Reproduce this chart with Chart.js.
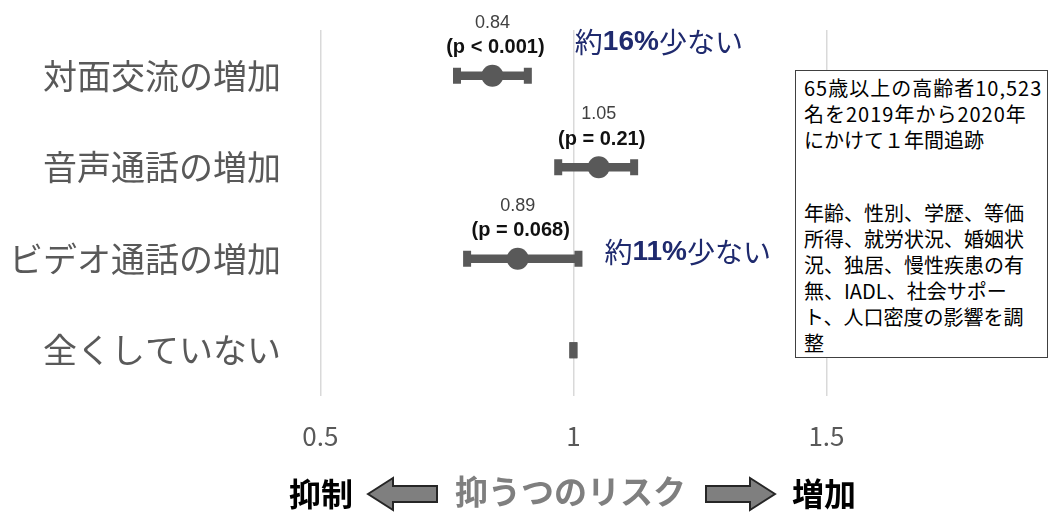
<!DOCTYPE html>
<html>
<head>
<meta charset="utf-8">
<script src="https://cdn.jsdelivr.net/npm/chart.js@4/dist/chart.umd.min.js"></script>
<style>
  html, body { margin: 0; padding: 0; background: #fff; }
  #wrap { position: relative; width: 1050px; height: 514px; overflow: hidden; }
  #chart { position: absolute; left: 0; top: 0; }
  /* adjustment note box */
  #note {
    position: absolute; left: 795px; top: 70px; width: 253px; height: 288px;
    box-sizing: border-box; border: 1.5px solid #404040; background: #fff;
    padding: 4px 0 0 8px; font-family: 'Noto Sans CJK JP', sans-serif;
    font-size: 20px; line-height: 26px; color: #000; white-space: nowrap;
  }
  #note .wide { letter-spacing: 1px; }
  #note .gap { height: 47px; }
  /* bottom caption */
  .cap { position: absolute; top: 472px; font-family: 'Noto Sans CJK JP', sans-serif;
         font-size: 32px; line-height: 40px; white-space: nowrap; }
  .cap.end { font-weight: bold; color: #000; }
  .cap.mid { color: #7f7f7f; font-size: 33px; top: 470px; font-weight: bold; }
  .arrow { position: absolute; top: 476px; }
</style>
</head>
<body>
<div id="wrap">
  <canvas id="chart" width="1050" height="514"></canvas>
  <div id="note">
    <span class="wide">65歳以上の高齢者10,523</span><br><span class="wide">名を2019年から2020年</span><br>にかけて１年間追跡
    <div class="gap"></div>
    年齢、性別、学歴、等価<br>所得、就労状況、婚姻状<br>況、独居、慢性疾患の有<br>無、IADL、社会サポー<br>ト、人口密度の影響を調<br>整
  </div>
  <span class="cap end" style="left:289px">抑制</span>
  <svg class="arrow" style="left:366px" width="74" height="36" viewBox="0 0 74 36">
    <polygon points="2,18 27,2 27,10 71,10 71,26 27,26 27,34" fill="#7f7f7f" stroke="#262626" stroke-width="2" stroke-linejoin="miter"/>
  </svg>
  <span class="cap mid" style="left:455px">抑うつのリスク</span>
  <svg class="arrow" style="left:703px" width="74" height="36" viewBox="0 0 74 36">
    <polygon points="72,18 47,2 47,10 3,10 3,26 47,26 47,34" fill="#7f7f7f" stroke="#262626" stroke-width="2" stroke-linejoin="miter"/>
  </svg>
  <span class="cap end" style="left:792px">増加</span>
</div>
<script>
/* ============================================
   DATA
   ============================================ */
const categories = ['対面交流の増加', '音声通話の増加', 'ビデオ通話の増加', '全くしていない'];
const oddsRatio = [0.84, 1.05, 0.89, null];
const ciLower = [0.77, 0.97, 0.79, 1];
const ciUpper = [0.91, 1.12, 1.01, 1];
const valueLabels = ['0.84', '1.05', '0.89', ''];
const pLabels = ['(p < 0.001)', '(p = 0.21)', '(p = 0.068)', ''];
const reductionPct = ['16%', '', '11%', ''];
const xTicks = [0.5, 1, 1.5];

const markColor = '#595959';

/* ============================================
   ANNOTATIONS (value / p-value / reduction notes)
   ============================================ */
const annotatePlugin = {
    id: 'annotate',
    afterDatasetsDraw(chart) {
        const { ctx, scales: { x, y } } = chart;
        ctx.save();
        ctx.textAlign = 'center';
        ctx.textBaseline = 'middle';
        categories.forEach((c, i) => {
            if (oddsRatio[i] === null) return;
            const px = x.getPixelForValue(oddsRatio[i]);
            const py = y.getPixelForValue(i);
            ctx.fillStyle = '#404040';
            ctx.font = '18px "Liberation Sans", Arial, sans-serif';
            ctx.fillText(valueLabels[i], px, py - 53);
            ctx.fillStyle = '#111';
            ctx.font = 'bold 20px "Liberation Sans", Arial, sans-serif';
            ctx.fillText(pLabels[i], px + 3, py - 28);
        });

        // "約xx%少ない" notes, placed right of the upper CI
        const noteShift = [{ dx: 47, dy: -33 }, null, { dx: 26, dy: -6 }, null];
        ctx.textAlign = 'left';
        ctx.fillStyle = '#1f2a6e';
        reductionPct.forEach((pct, i) => {
            if (!pct) return;
            let px = x.getPixelForValue(ciUpper[i]) + noteShift[i].dx;
            const py = y.getPixelForValue(i) + noteShift[i].dy;
            const parts = [
                ['約', '28px "Noto Sans CJK JP", sans-serif'],
                [pct, 'bold 28px "Liberation Sans", Arial, sans-serif'],
                ['少ない', '28px "Noto Sans CJK JP", sans-serif']
            ];
            parts.forEach(([t, f]) => {
                ctx.font = f;
                ctx.fillText(t, px, py);
                px += ctx.measureText(t).width;
            });
        });
        ctx.restore();
    }
};

/* ============================================
   CHART
   ============================================ */
const pointsOf = arr => categories
    .map((c, i) => (arr[i] === null ? null : { x: arr[i], y: c }))
    .filter(p => p);

const capStyle = {
    type: 'line',
    showLine: false,
    pointStyle: 'line',
    rotation: 90,
    radius: 8,
    borderWidth: 8,
    borderColor: markColor,
    order: 2
};

new Chart(document.getElementById('chart'), {
    type: 'bar',
    data: {
        labels: categories,
        datasets: [
            {
                label: 'CI',
                data: categories.map((c, i) => [ciLower[i], ciUpper[i]]),
                backgroundColor: markColor,
                barThickness: 8,
                borderSkipped: false,
                order: 3
            },
            { ...capStyle, label: 'lower cap', data: pointsOf(ciLower) },
            { ...capStyle, label: 'upper cap', data: pointsOf(ciUpper) },
            {
                type: 'line',
                label: 'odds ratio',
                data: pointsOf(oddsRatio),
                showLine: false,
                pointStyle: 'circle',
                radius: 11,
                borderWidth: 0,
                backgroundColor: markColor,
                order: 1
            }
        ]
    },
    options: {
        indexAxis: 'y',
        responsive: false,
        animation: false,
        layout: { padding: { top: 30, right: 10, left: 0, bottom: 0 } },
        plugins: { legend: { display: false }, tooltip: { enabled: false } },
        scales: {
            y: {
                type: 'category',
                offset: true,
                grid: { display: false },
                border: { display: false },
                ticks: {
                    color: '#595959',
                    padding: 6,
                    font: { family: '"Noto Sans CJK JP", sans-serif', size: 34 }
                },
                afterFit: s => { s.width = 295; }
            },
            x: {
                type: 'linear',
                min: 0.45,
                max: 1.91,
                afterBuildTicks: s => { s.ticks = xTicks.map(v => ({ value: v })); },
                grid: { color: '#d9d9d9', lineWidth: 1.5, drawTicks: false },
                border: { display: false },
                ticks: {
                    color: '#595959',
                    padding: 25,
                    font: { family: '"Noto Sans CJK JP", sans-serif', size: 26 },
                    callback: v => String(v)
                },
                afterFit: s => { s.height = 118; }
            }
        }
    },
    plugins: [annotatePlugin]
});
</script>
</body>
</html>
